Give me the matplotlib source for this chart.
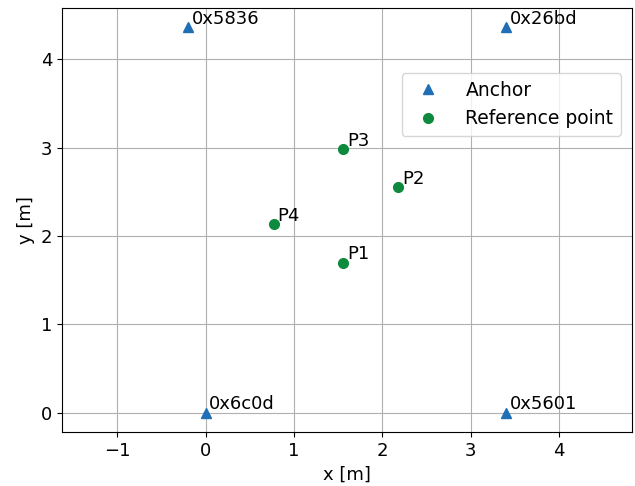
import numpy as np
import matplotlib.pyplot as plt

# anchors #
anchor_ids = ['0x6c0d', '0x5601', '0x5836', '0x26bd']
anchor_x = [0.0, 3.4, -0.2, 3.4]
anchor_y = [0.0, 0.0, 4.36, 4.36]

# reference points #
ref_ids = ['P1', 'P2', 'P3', 'P4']
ref_x = [1.56, 2.18, 1.56, 0.775]
ref_y = [1.695, 2.55, 2.98, 2.13]

plt.rcParams['font.size'] = 13

fig = plt.figure(figsize=(6.35, 4.86), dpi=100)
ax = fig.add_axes([62/635, 54/486, 570/635, 424/486])

ax.plot(anchor_x, anchor_y, '^', color='#1f6fb6', markersize=7, label='Anchor', zorder=3)
ax.plot(ref_x, ref_y, 'o', color='#0e8a3e', markersize=7, label='Reference point', zorder=3)

for i in range(len(anchor_ids)):
    ax.text(anchor_x[i]+0.04, anchor_y[i]+0.04, anchor_ids[i])
for i in range(len(ref_ids)):
    ax.text(ref_x[i]+0.04, ref_y[i]+0.04, ref_ids[i])

ax.axis('equal')
ax.grid(True, color='#b0b0b0')
ax.set_axisbelow(True)
ax.set_xlabel('x [m]')
ax.set_ylabel('y [m]')
ax.legend(loc='upper right', bbox_to_anchor=(0.997, 0.868), fontsize=13.5, handletextpad=1.0)

plt.savefig('out.png')
